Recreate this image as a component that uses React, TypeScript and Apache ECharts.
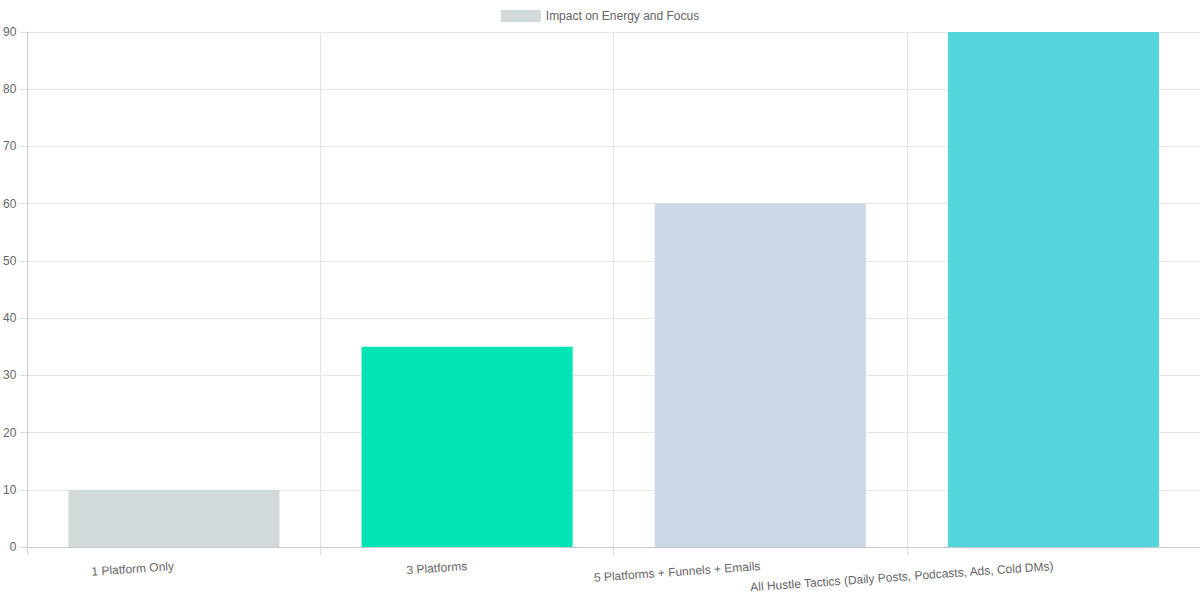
import { useEffect, useRef } from 'react';
import * as echarts from 'echarts';

const categories = [
  '1 Platform Only',
  '3 Platforms',
  '5 Platforms + Funnels + Emails',
  'All Hustle Tactics (Daily Posts, Podcasts, Ads, Cold DMs)',
];
const impactValues = [10, 35, 60, 90];
const barColors = ['#d1d9db', '#00e3b4', '#cbd7e4', '#54d4db'];
const yTicks = { min: 0, max: 90, interval: 10 };

export default function App() {
  const chartRef = useRef<HTMLDivElement>(null);

  useEffect(() => {
    if (!chartRef.current) return;
    document.body.style.margin = '0';
    const chart = echarts.init(chartRef.current, undefined, { renderer: 'svg' });

    const option: echarts.EChartsOption = {
      animation: false,
      textStyle: { fontFamily: 'Liberation Sans, Arial, sans-serif' },
      legend: {
        top: 5,
        left: 'center',
        icon: 'rect',
        itemWidth: 40,
        itemHeight: 12,
        itemGap: 6,
        textStyle: { color: '#666', fontSize: 12 },
        data: ['Impact on Energy and Focus'],
      },
      grid: { left: 27, right: 0, top: 32, bottom: 53 },
      xAxis: {
        type: 'category',
        data: categories,
        axisLine: { lineStyle: { color: '#c8c8c8' } },
        axisTick: { show: true, length: 8, lineStyle: { color: '#dcdcdc' } },
        splitLine: { show: true, lineStyle: { color: '#e5e5e5' } },
        axisLabel: {
          color: '#666',
          fontSize: 12,
          rotate: 4,
          margin: 19,
          interval: 0,
        },
      },
      yAxis: {
        type: 'value',
        min: yTicks.min,
        max: yTicks.max,
        interval: yTicks.interval,
        axisLine: { show: true, lineStyle: { color: '#c8c8c8' } },
        axisTick: { show: true, length: 7, lineStyle: { color: '#dcdcdc' } },
        splitLine: { lineStyle: { color: '#e5e5e5' } },
        axisLabel: { color: '#666', fontSize: 12, margin: 11 },
      },
      series: [
        {
          name: 'Impact on Energy and Focus',
          type: 'bar',
          barWidth: '72%',
          itemStyle: { color: barColors[0] },
          data: impactValues.map((v, i) => ({
            value: v,
            itemStyle: { color: barColors[i] },
          })),
        },
      ],
    };

    chart.setOption(option);
    return () => chart.dispose();
  }, []);

  return <div ref={chartRef} style={{ width: 1200, height: 600 }} />;
}
